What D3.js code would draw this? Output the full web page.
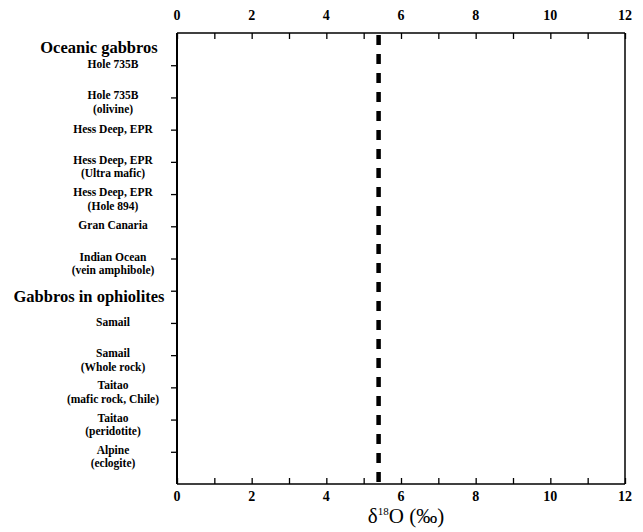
<!DOCTYPE html>
<html>
<head>
<meta charset="utf-8">
<script src="https://d3js.org/d3.v7.min.js"></script>
<style>
  body { margin: 0; background: #fff; }
  text { font-family: "Liberation Serif", "DejaVu Serif", serif; fill: #000; }
</style>
</head>
<body>
<script>
    // rows from the top of the plot, position 0 = top edge, 14 = bottom edge
    var rowLabels = [
        ['Hole 735B'],
        ['Hole 735B', '(olivine)'],
        ['Hess Deep, EPR'],
        ['Hess Deep, EPR', '(Ultra mafic)'],
        ['Hess Deep, EPR', '(Hole 894)'],
        ['Gran Canaria'],
        ['Indian Ocean', '(vein amphibole)'],
        ['Gabbros in ophiolites'],
        ['Samail'],
        ['Samail', '(Whole rock)'],
        ['Taitao', '(mafic rock, Chile)'],
        ['Taitao', '(peridotite)'],
        ['Alpine', '(eclogite)']
    ];
    var rowPos = [1, 2, 3, 4, 5, 6, 7, 8, 9, 10, 11, 12, 13];
    var groupHeaders = ['Oceanic gabbros', 'Gabbros in ophiolites'];
    var headerPos = [0.47];
    var xTicks = [0, 2, 4, 6, 8, 10, 12];
    var mantleValue = 5.4;

    var w = 643, h = 532;
    var pLeft = 177, pRight = 625, pTop = 33, pBottom = 484;

    var svg = d3.select('body').append('svg')
        .attr('width', w)
        .attr('height', h);

    var x = d3.scaleLinear().domain([0, 12]).range([pLeft, pRight]);
    var y = d3.scaleLinear().domain([0, 14]).range([pTop, pBottom]);

    // top and bottom axes, ticks pointing into the plot
    var topAxis = d3.axisTop(x).tickValues(d3.range(0, 13)).tickSize(-6).tickFormat('');
    svg.append('g').attr('class', 'ax').attr('transform', 'translate(0,' + pTop + ')').call(topAxis);
    var bottomAxis = d3.axisBottom(x).tickValues(d3.range(0, 13)).tickSize(-6).tickFormat('');
    svg.append('g').attr('class', 'ax').attr('transform', 'translate(0,' + pBottom + ')').call(bottomAxis);

    // left ticks pointing out
    var leftAxis = d3.axisLeft(y).tickValues(rowPos).tickSize(6).tickFormat('');
    svg.append('g').attr('class', 'ax').attr('transform', 'translate(' + pLeft + ',0)').call(leftAxis);

    svg.selectAll('.ax .domain').remove();
    svg.selectAll('.ax .tick text').remove();
    svg.selectAll('.ax .tick line').attr('stroke', '#000').attr('stroke-width', 1.3);

    // frame
    svg.append('line').attr('x1', pLeft).attr('x2', pRight).attr('y1', pTop).attr('y2', pTop)
        .attr('stroke', '#000').attr('stroke-width', 1.3);
    svg.append('line').attr('x1', pLeft).attr('x2', pRight).attr('y1', pBottom).attr('y2', pBottom)
        .attr('stroke', '#000').attr('stroke-width', 1.3);
    svg.append('line').attr('x1', pLeft).attr('x2', pLeft).attr('y1', pTop).attr('y2', pBottom)
        .attr('stroke', '#000').attr('stroke-width', 2);
    svg.append('line').attr('x1', pRight).attr('x2', pRight).attr('y1', pTop).attr('y2', pBottom)
        .attr('stroke', '#000').attr('stroke-width', 1.5);

    // x tick labels top and bottom
    svg.append('g').selectAll('text').data(xTicks).enter().append('text')
        .attr('x', (d) => { return x(d) })
        .attr('y', 20)
        .attr('text-anchor', 'middle')
        .attr('font-size', 14)
        .attr('font-weight', 'bold')
        .text((d) => { return d });
    svg.append('g').selectAll('text').data(xTicks).enter().append('text')
        .attr('x', (d) => { return x(d) })
        .attr('y', 501)
        .attr('text-anchor', 'middle')
        .attr('font-size', 14)
        .attr('font-weight', 'bold')
        .text((d) => { return d });

    // row labels
    var labelG = svg.append('g');
    rowLabels.forEach((lines, i) => {
        var isHeader = groupHeaders.indexOf(lines[0]) >= 0;
        var t = labelG.append('text')
            .attr('text-anchor', 'middle')
            .attr('font-weight', 'bold');
        if (isHeader) {
            t.attr('x', 89).attr('y', y(rowPos[i]) + 11)
                .attr('font-size', 16.5)
                .text(lines[0]);
            return;
        }
        t.attr('font-size', 11.5);
        var y0 = lines.length > 1 ? y(rowPos[i]) + 2 : y(rowPos[i]) + 3;
        lines.forEach((s, j) => {
            t.append('tspan')
                .attr('x', 113)
                .attr('y', y0 + j * 13.5)
                .text(s);
        });
    });

    // first group header
    svg.append('text')
        .attr('x', 99)
        .attr('y', y(headerPos[0]) + 5)
        .attr('text-anchor', 'middle')
        .attr('font-size', 16.5)
        .attr('font-weight', 'bold')
        .text(groupHeaders[0]);

    // dashed mantle line
    svg.append('line')
        .attr('x1', x(mantleValue)).attr('x2', x(mantleValue))
        .attr('y1', pTop + 2).attr('y2', pBottom)
        .attr('stroke', '#000')
        .attr('stroke-width', 4.5)
        .attr('stroke-dasharray', '10,9');

    // axis title
    var title = svg.append('text')
        .attr('x', 406)
        .attr('y', 523)
        .attr('text-anchor', 'middle')
        .attr('font-size', 21);
    title.append('tspan').text('δ');
    title.append('tspan').attr('font-size', 11).attr('dy', -8).text('18');
    title.append('tspan').attr('dy', 8).text('O (‰)');
</script>
</body>
</html>
